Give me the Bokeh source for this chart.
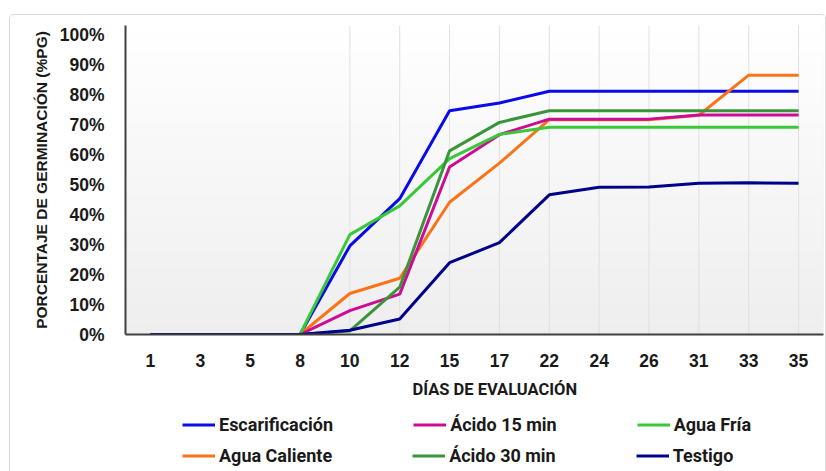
import numpy as np
from bokeh.plotting import figure
from bokeh.layouts import column
from bokeh.models import (FactorRange, Range1d, FixedTicker, PrintfTickFormatter,
                          Legend, LegendItem, Title, BoxAnnotation)
from bokeh.embed import file_html
from bokeh.resources import INLINE

# ---------------- data ----------------
dias = ["1", "3", "5", "8", "10", "12", "15", "17", "22", "24", "26", "31", "33", "35"]
escarificacion = [0, 0, 0, 0, 29.6, 45.4, 74.8, 77.4, 81.3, 81.3, 81.3, 81.3, 81.3, 81.3]
acido_15 = [0, 0, 0, 0, 8.0, 13.5, 56.0, 66.8, 72.0, 72.0, 72.0, 73.4, 73.4, 73.4]
agua_fria = [0, 0, 0, 0, 33.4, 43.0, 58.8, 66.9, 69.3, 69.3, 69.3, 69.3, 69.3, 69.3]
agua_caliente = [0, 0, 0, 0, 13.7, 18.8, 44.2, 57.3, 71.8, 71.8, 71.8, 73.3, 86.7, 86.7]
acido_30 = [0, 0, 0, 0, 1.2, 15.8, 61.4, 70.9, 74.8, 74.8, 74.8, 74.8, 74.8, 74.8]
testigo = [0, 0, 0, 0, 1.4, 5.2, 24.0, 30.7, 46.7, 49.2, 49.3, 50.6, 50.7, 50.6]
y_ticks = [0, 10, 20, 30, 40, 50, 60, 70, 80, 90, 100]

series = [  # (label, values, colour) in legend order
    ("Escarificación", escarificacion, "#0a0aeb"),
    ("Ácido 15 min", acido_15, "#cc0c96"),
    ("Agua Fría", agua_fria, "#38c838"),
    ("Agua Caliente", agua_caliente, "#fb7317"),
    ("Ácido 30 min", acido_30, "#3a953a"),
    ("Testigo", testigo, "#00008b"),
]
draw_order = ["Escarificación", "Agua Caliente", "Ácido 15 min", "Agua Fría", "Ácido 30 min", "Testigo"]

Y_MAX = 103.3

# ---------------- main chart ----------------
p = figure(width=815, height=393, output_backend="svg", toolbar_location=None,
           x_range=FactorRange(*dias), y_range=Range1d(0, Y_MAX), title=None,
           min_border_left=115, min_border_right=2, min_border_top=10, min_border_bottom=74)
p.outline_line_color = None
p.background_fill_color = "#eeeeee"
p.border_fill_color = "white"
p.xgrid.visible = False
p.ygrid.visible = False

# background gradient (white at top, light grey at bottom)
N = 60
for i in range(N):
    t = i / N
    g = int(round(238 + 17 * t))
    p.add_layout(BoxAnnotation(bottom=Y_MAX * t, top=Y_MAX, fill_color="#%02x%02x%02x" % (g, g, g),
                               fill_alpha=1, line_color=None, level="image"))

# vertical grid lines (only visible from day 10 on)
grid_days = dias[4:]
p.segment(x0=grid_days, y0=[0] * len(grid_days), x1=grid_days, y1=[Y_MAX] * len(grid_days),
          line_color="#e0e0e0", line_width=1, level="underlay")

lookup = {name: (vals, col) for name, vals, col in series}
for name in draw_order:
    vals, col = lookup[name]
    p.line(dias, vals, line_color=col, line_width=3)

for ax in (p.xaxis, p.yaxis):
    ax.axis_line_color = "#404040"
    ax.axis_line_width = 2
    ax.major_tick_line_color = None
    ax.minor_tick_line_color = None
    ax.major_label_text_font = "Liberation Sans"
    ax.major_label_text_font_style = "bold"
    ax.major_label_text_font_size = "17.5px"
    ax.major_label_text_color = "#1a1a1a"

p.yaxis.ticker = FixedTicker(ticks=y_ticks)
p.yaxis.formatter = PrintfTickFormatter(format="%d%%")
p.yaxis.major_label_standoff = 15
p.yaxis.axis_label = "PORCENTAJE DE GERMINACIÓN (%PG)"
p.yaxis.axis_label_text_font = "Liberation Sans"
p.yaxis.axis_label_text_font_style = "bold"
p.yaxis.axis_label_text_font_size = "15.5px"
p.yaxis.axis_label_text_color = "#1a1a1a"
p.yaxis.axis_label_standoff = 7

p.xaxis.major_label_standoff = 13

xt = Title(text="DÍAS DE EVALUACIÓN", align="left", offset=287,
           text_font="Roboto", text_font_style="bold", text_font_size="16.5px",
           text_color="#1a1a1a", standoff=16)
p.add_layout(xt, "below")

# ---------------- legend strip ----------------
q = figure(width=815, height=63, output_backend="svg", toolbar_location=None,
           x_range=Range1d(0, 1), y_range=Range1d(0, 1), title=None,
           x_axis_location=None, y_axis_location=None,
           min_border_left=0, min_border_right=0, min_border_top=0, min_border_bottom=0)
q.outline_line_color = None
q.xgrid.visible = False
q.ygrid.visible = False
q.background_fill_color = "white"
q.border_fill_color = "white"

# legend proxies (no visible points of their own)
legend_renderers = {name: q.line(x=np.array([np.nan]), y=np.array([np.nan]), line_color=col, line_width=3)
                    for name, _, col in series}

legend_style = dict(orientation="horizontal",
                    glyph_width=33, glyph_height=23, label_height=23, label_width=100,
                    label_standoff=4, spacing=80, padding=4, margin=0,
                    border_line_color=None, background_fill_alpha=0,
                    label_text_font="Roboto", label_text_font_style="bold",
                    label_text_font_size="18px", label_text_color="#1a1a1a")

names = [s[0] for s in series]
legend1 = Legend(items=[LegendItem(label=n, renderers=[legend_renderers[n]]) for n in names[:3]],
                 location=(57, 35.5), **legend_style)
legend2 = Legend(items=[LegendItem(label=n, renderers=[legend_renderers[n]]) for n in names[3:]],
                 location=(57, 4.5), **legend_style)
q.add_layout(legend1)
q.add_layout(legend2)

layout = column(p, q, spacing=0,
                styles={"margin-top": "14px", "margin-left": "9px",
                        "border": "1px solid #d9d9d9", "border-bottom": "none",
                        "border-radius": "5px 5px 0 0"})

open("out.html", "w").write(file_html(layout, INLINE))
